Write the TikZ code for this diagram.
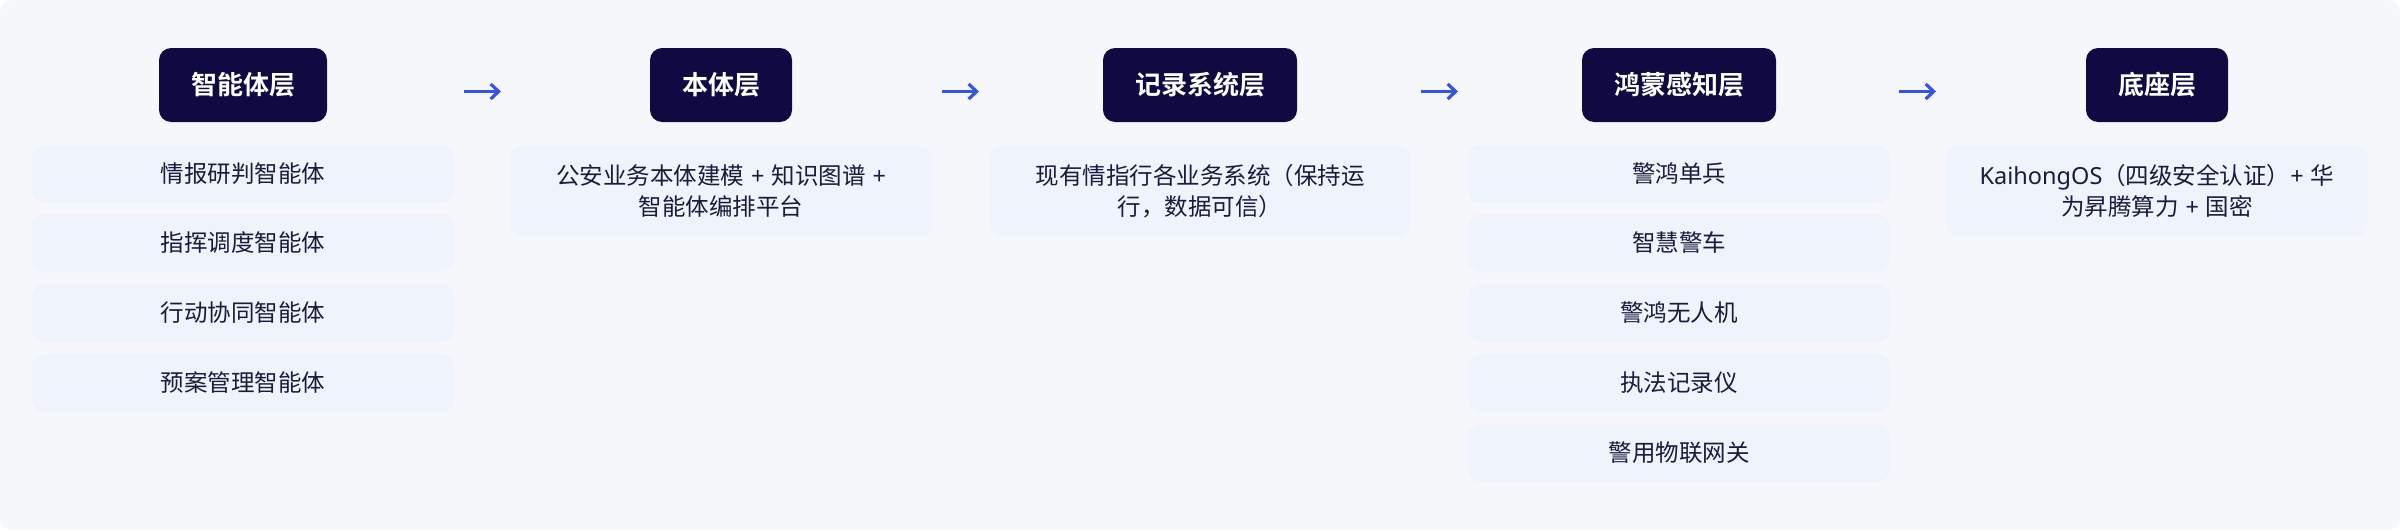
\documentclass[tikz,border=0pt]{standalone}
\usepackage{fontspec}
\setmainfont{Noto Sans CJK SC}[BoldFont={Noto Sans CJK SC Bold}]
\newfontfamily\lat{Noto Sans}
\usetikzlibrary{arrows.meta}
\definecolor{bgc}{HTML}{F6F7FB}
\definecolor{itemc}{HTML}{EEF3FC}
\definecolor{hdrc}{HTML}{100A42}
\definecolor{txtc}{HTML}{1C1A3D}
\definecolor{arrc}{HTML}{3455E4}
\newcommand{\pls}{\hspace{7pt}{\lat +}\hspace{7pt}}
\tikzset{
  hdr/.style={fill=hdrc, rounded corners=12pt, text=white, font=\fontsize{26}{30}\selectfont\bfseries, minimum height=74pt, inner xsep=32pt, inner ysep=0pt},
  item/.style={fill=itemc, rounded corners=12pt, text=txtc, font=\fontsize{23.5}{31}\selectfont, minimum width=422pt, minimum height=57pt, align=center, inner sep=0pt},
  arr/.style={draw=arrc, line width=3.2pt, -{Straight Barb[length=8pt,width=15pt]}}
}
\begin{document}
\begin{tikzpicture}[x=1pt,y=-1pt]
\fill[white] (0,0) rectangle (2400,530);
\useasboundingbox (0,0) rectangle (2400,530);
\fill[bgc, rounded corners=12pt] (0,0) rectangle (2400,530);
% headers
\node[hdr] (h1) at (243,85) {智能体层};
\node[hdr] (h2) at (721,85) {本体层};
\node[hdr] (h3) at (1200,85) {记录系统层};
\node[hdr] (h4) at (1679,85) {鸿蒙感知层};
\node[hdr] (h5) at (2157,85) {底座层};
% column 1
\node[item] (c1a) at (243,174) {情报研判智能体};
\node[item] (c1b) at (243,243) {指挥调度智能体};
\node[item] (c1c) at (243,313) {行动协同智能体};
\node[item] (c1d) at (243,383) {预案管理智能体};
% column 2
\node[item, minimum height=90pt] (c2a) at (721,191) {公安业务本体建模\pls 知识图谱\hspace{7pt}{\lat +}\\智能体编排平台};
% column 3
\node[item, minimum height=90pt] (c3a) at (1200,191) {现有情指行各业务系统（保持运\\行，数据可信）};
% column 4
\node[item] (c4a) at (1679,174) {警鸿单兵};
\node[item] (c4b) at (1679,243) {智慧警车};
\node[item] (c4c) at (1679,313) {警鸿无人机};
\node[item] (c4d) at (1679,383) {执法记录仪};
\node[item] (c4e) at (1679,453) {警用物联网关};
% column 5
\node[item, minimum height=90pt] (c5a) at (2157,191) {{\lat KaihongOS}（四级安全认证）{\lat +}\hspace{7pt}华\\为昇腾算力\pls 国密};
% arrows
\coordinate (a1s) at (464,91.5); \coordinate (a1e) at (501,91.5);
\coordinate (a2s) at (942,91.5); \coordinate (a2e) at (979,91.5);
\coordinate (a3s) at (1421,91.5); \coordinate (a3e) at (1458,91.5);
\coordinate (a4s) at (1899,91.5); \coordinate (a4e) at (1936,91.5);
\draw[arr] (a1s) -- (a1e);
\draw[arr] (a2s) -- (a2e);
\draw[arr] (a3s) -- (a3e);
\draw[arr] (a4s) -- (a4e);
\end{tikzpicture}
\end{document}
